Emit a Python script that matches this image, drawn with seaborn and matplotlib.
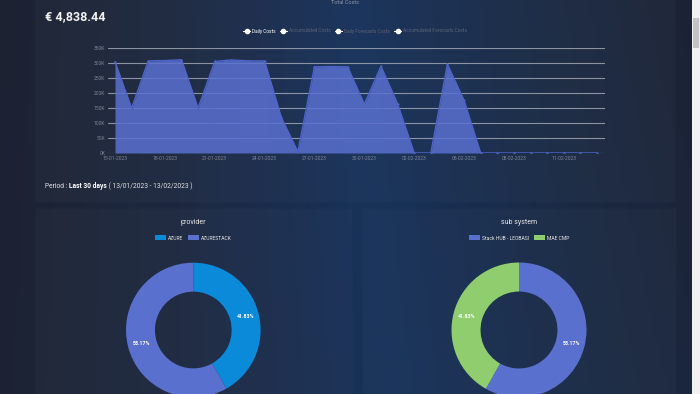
import numpy as np
import matplotlib
matplotlib.use("Agg")
import matplotlib.pyplot as plt
from matplotlib.patches import Rectangle, Patch
from matplotlib.lines import Line2D
from matplotlib.colors import LinearSegmentedColormap
import seaborn as sns

# ---------------------------------------------------------------
# data
# ---------------------------------------------------------------
dates = ["15-01-2023", "16-01-2023", "17-01-2023", "18-01-2023", "19-01-2023",
         "20-01-2023", "21-01-2023", "22-01-2023", "23-01-2023", "24-01-2023",
         "25-01-2023", "26-01-2023", "27-01-2023", "28-01-2023", "29-01-2023",
         "30-01-2023", "31-01-2023", "01-02-2023", "02-02-2023", "03-02-2023",
         "04-02-2023", "05-02-2023", "06-02-2023", "07-02-2023", "08-02-2023",
         "09-02-2023", "10-02-2023", "11-02-2023", "12-02-2023", "13-02-2023"]
daily_costs = [305000, 150000, 308000, 309000, 312000,
               150000, 306000, 311000, 308000, 308000,
               120000, 4000, 288000, 289000, 288000,
               163000, 290000, 165000, 0, 0,
               297000, 176000, 0, 0, 0,
               0, 0, 0, 0, 0]
legend_series = ["Daily Costs", "Accumulated Costs", "Daily Forecasts Costs",
                 "Accumulated Forecasts Costs"]
y_ticks = [0, 50000, 100000, 150000, 200000, 250000, 300000, 350000]
y_tick_labels = ["0K", "50K", "100K", "150K", "200K", "250K", "300K", "350K"]

provider_names = ["AZURE", "AZURESTACK"]
provider_share = [41.83, 58.17]
subsystem_names = ["Stack HUB - LEOBASI", "MAE CMP"]
subsystem_share = [58.17, 41.83]

total_cost = "€ 4,838.44"
period_parts = ["Period : ", "Last 30 days", " ( 13/01/2023 - 13/02/2023 )"]

# ---------------------------------------------------------------
# style
# ---------------------------------------------------------------
sns.set_theme(style="dark")
plt.rcParams["font.family"] = ["Roboto", "DejaVu Sans"]

W, H = 700, 394
fig = plt.figure(figsize=(7, 3.94), dpi=100)


def fx(x):
    return x / W


def fy(y):
    return 1 - y / H


# background gradient
bg = fig.add_axes([0, 0, 1, 1], zorder=-10)
cmap = LinearSegmentedColormap.from_list(
    "bg", ["#1c2232", "#1d2840", "#17325a", "#1a2a45", "#1c2234"])
grad = np.tile(np.linspace(0, 1, 300), (50, 1))
shade = np.linspace(0, 0.15, 50)[:, None]
bg.imshow(grad * (1 - shade) + shade * 0.2, cmap=cmap, aspect="auto",
          extent=[0, 1, 0, 1], vmin=0, vmax=1)
bg.set_xlim(0, 1)
bg.set_ylim(0, 1)
bg.axis("off")

# panels
for (x0, y0, x1, y1) in [(35, -5, 675, 202), (35, 208, 352, 400), (362, 208, 676, 400)]:
    bg.add_patch(Rectangle((fx(x0), fy(y1)), fx(x1 - x0), (y1 - y0) / H,
                           facecolor="#ffffff", alpha=0.025,
                           edgecolor="#2e3752", linewidth=0.9))
# scrollbar
bg.add_patch(Rectangle((fx(692), 0), fx(8), 1, facecolor="#f1f1f1", edgecolor="none"))
bg.add_patch(Rectangle((fx(693), fy(48)), fx(6), 30 / H, facecolor="#c4c4c4", edgecolor="none"))

# ---------------------------------------------------------------
# daily costs area chart
# ---------------------------------------------------------------
px_day = (597 - 115) / 29
ax = fig.add_axes([fx(108), fy(153), fx(605 - 108), (153 - 48) / H])
ax.set_facecolor("none")
days = np.arange(len(dates))
ax.fill_between(days, daily_costs, color="#5a70d0", alpha=0.85, linewidth=0, zorder=2)
sns.lineplot(x=days, y=daily_costs, ax=ax, color="#4e63c8", linewidth=1.0,
             marker="o", markersize=1.6, markeredgewidth=0, zorder=3)
ax.set_xlim(-7 / px_day, 29 + 8 / px_day)
ax.set_ylim(0, 351000)
ax.set_yticks(y_ticks)
ax.set_yticklabels(y_tick_labels)
ax.set_xticks(days[::3])
ax.set_xticklabels(dates[::3])
ax.tick_params(axis="both", labelsize=3.6, colors="#7d8497", length=0, pad=2)
ax.grid(axis="y", color="#a7adbb", linewidth=0.8, alpha=0.8, zorder=1)
ax.grid(axis="x", visible=False)
for s in ax.spines.values():
    s.set_visible(False)

# legend for the line chart
handles = [Line2D([0], [0], color="#ffffff", marker="o", markersize=3, linewidth=0.8)
           for _ in legend_series]
leg = fig.legend(handles, legend_series, loc="center", bbox_to_anchor=(fx(355), fy(31)),
                 ncol=4, frameon=False, fontsize=3.4, handlelength=1.4,
                 columnspacing=1.0, handletextpad=0.4)
for i, t in enumerate(leg.get_texts()):
    t.set_color("#ffffff" if i == 0 else "#5b6275")

fig.text(fx(345), fy(0.5), "Total Costs", ha="center", va="top", fontsize=4, color="#8d93a3")
fig.text(fx(45), fy(17), total_cost, ha="left", va="center", fontsize=9,
         fontweight="bold", color="#f2f2f2")

# period line, drawn piece by piece
renderer = fig.canvas.get_renderer()
x_pos = 45
for part, weight in zip(period_parts, ["normal", "bold", "normal"]):
    t = fig.text(fx(x_pos), fy(186), part, ha="left", va="center", fontsize=4.8,
                 fontweight=weight, color="#ffffff" if weight == "bold" else "#e3e3e3")
    x_pos += t.get_window_extent(renderer).width

# ---------------------------------------------------------------
# donuts
# ---------------------------------------------------------------
def donut(cx, cy, r, values, names, colors, title):
    a = fig.add_axes([fx(cx - r), fy(cy + r), fx(2 * r), 2 * r / H])
    wedges, _, autotexts = a.pie(values, colors=colors, startangle=90, counterclock=False,
                                 radius=1, autopct="%.2f%%", pctdistance=0.8,
                                 wedgeprops=dict(width=0.43, linewidth=0))
    for t in autotexts:
        t.set_color("#ffffff")
        t.set_fontsize(3.8)
        t.set_fontweight("bold")
    a.set_xlim(-1, 1)
    a.set_ylim(-1, 1)
    a.set_aspect("equal")
    a.axis("off")
    fig.text(fx(cx), fy(222), title, ha="center", va="center", fontsize=5, color="#e6e6e6")
    hs = [Patch(facecolor=c, edgecolor="none") for c in colors]
    fig.legend(hs, names, loc="center", bbox_to_anchor=(fx(cx), fy(238)), ncol=len(names),
               frameon=False, fontsize=3.6, handlelength=2.2, handleheight=1.1,
               columnspacing=0.9, handletextpad=0.4, labelcolor="#e6e6e6")


donut(193.3, 330, 67.3, provider_share, provider_names, ["#0a8ad8", "#5a70ce"], "provider")
donut(519, 330, 67.5, subsystem_share, subsystem_names, ["#5a70ce", "#8fcd6e"], "sub system")

fig.savefig("out.png", dpi=100, facecolor="#1c2232")
